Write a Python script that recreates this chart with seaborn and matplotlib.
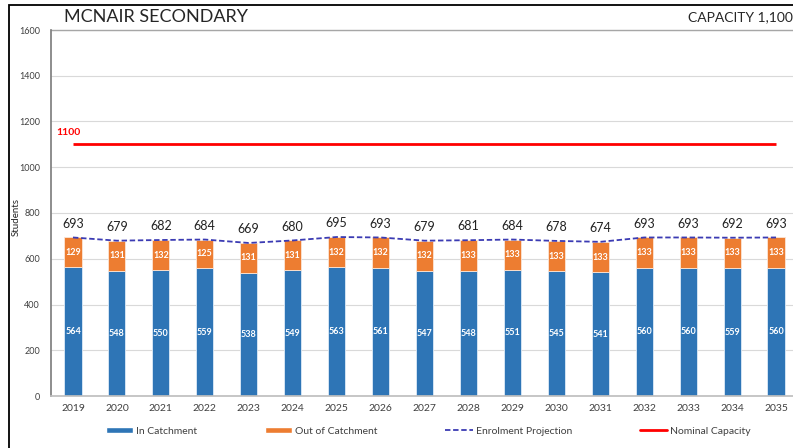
import matplotlib
matplotlib.use("Agg")
import matplotlib.pyplot as plt
import numpy as np
import pandas as pd
import seaborn as sns
from matplotlib.lines import Line2D
from matplotlib.patches import Patch, Rectangle

years = ["2019", "2020", "2021", "2022", "2023", "2024", "2025", "2026", "2027",
         "2028", "2029", "2030", "2031", "2032", "2033", "2034", "2035"]
in_catchment = [564, 548, 550, 559, 538, 549, 563, 561, 547, 548, 551, 545, 541, 560, 560, 559, 560]
out_catchment = [129, 131, 132, 125, 131, 131, 132, 132, 132, 133, 133, 133, 133, 133, 133, 133, 133]
capacity = 1100

BLUE = "#2E75B6"
ORANGE = "#ED7D31"
NAVY = "#3B3BB3"
RED = "#FF0000"

df = pd.DataFrame({"year": years, "in": in_catchment, "out": out_catchment})
df["total"] = df["in"] + df["out"]
df["capacity"] = capacity
df["pos"] = np.arange(len(df))

sns.set_theme(style="white")
plt.rcParams["font.family"] = ["Lato", "DejaVu Sans"]

fig = plt.figure(figsize=(7.93, 4.48), dpi=100)
ax = fig.add_axes([51 / 793, 1 - 396 / 448, 747 / 793, 366 / 448])

sns.barplot(data=df, x="year", y="in", color=BLUE, width=0.39, saturation=1,
            edgecolor="#DDEBF7", linewidth=0.6, ax=ax)
sns.barplot(data=df, x="year", y="out", color=ORANGE, width=0.39, saturation=1,
            bottom=df["in"], edgecolor="#FBE5D6", linewidth=0.6, ax=ax)

# lines on the same category positions as the bars
ax.plot(df["pos"], df["total"], color=NAVY, linestyle=(0, (3, 1.5)), linewidth=1.3)
ax.plot(df["pos"], df["capacity"], color=RED, linewidth=2, solid_capstyle="butt")

for _, r in df.iterrows():
    ax.text(r["pos"], r["in"] / 2, f"{r['in']}", ha="center", va="center",
            color="white", fontsize=6.5, fontweight="bold")
    ax.text(r["pos"], r["in"] + r["out"] / 2, f"{r['out']}", ha="center", va="center",
            color="white", fontsize=6.5, fontweight="bold")
    ax.annotate(f"{r['total']}", (r["pos"], r["total"]), xytext=(0, 10),
                textcoords="offset points", ha="center", va="center",
                fontsize=9, color="#222222")

ax.text(-0.1, capacity + 50, str(capacity), color=RED, fontsize=7.5,
        fontweight="bold", ha="center", va="center")

ax.set_xlim(-0.5, len(df) - 0.5)
ax.set_ylim(0, 1600)
ax.set_yticks(range(0, 1601, 200))
ax.yaxis.grid(True, color="#D9D9D9", linewidth=0.8)
ax.set_axisbelow(True)
ax.tick_params(axis="y", labelsize=6.5, colors="#404040", length=0, pad=8)
ax.tick_params(axis="x", labelsize=7.5, colors="#404040", length=0, pad=6)
ax.set_xlabel("")
ax.set_ylabel("Students", fontsize=7, color="#222222")
ax.yaxis.set_label_coords(-30 / 747, 0.49)
for side in ["top", "right"]:
    ax.spines[side].set_visible(False)
ax.spines["left"].set_color("#808080")
ax.spines["bottom"].set_color("#BFBFBF")
ax.plot([0, 1], [1, 1], transform=ax.transAxes, color="#A6A6A6", linewidth=1,
        clip_on=False)

fig.text(64 / 793, 1 - 17 / 448, "MCNAIR SECONDARY", fontsize=13, va="center",
         color="#262626")
fig.text(1.0, 1 - 17 / 448, "CAPACITY 1,100", fontsize=10, va="center", ha="right",
         color="#262626")

fig.patches.append(Rectangle((8.5 / 793, -0.1), 1.2, 1 - 4.5 / 448 + 0.1,
                             transform=fig.transFigure, fill=False,
                             edgecolor="black", linewidth=1.3))

handles = [
    Patch(facecolor=BLUE, label="In Catchment"),
    Patch(facecolor=ORANGE, label="Out of Catchment"),
    Line2D([], [], color=NAVY, linestyle=(0, (3, 1.5)), linewidth=1.3,
           label="Enrolment Projection"),
    Line2D([], [], color=RED, linewidth=2, label="Nominal Capacity"),
]
fig.legend(handles=handles, loc="center", bbox_to_anchor=(0.54, 1 - 431 / 448),
           ncol=4, frameon=False, fontsize=7.5, handlelength=2.6, handleheight=0.45,
           columnspacing=6.5, handletextpad=0.3, labelcolor="#404040")

fig.savefig("out.png", dpi=100)
